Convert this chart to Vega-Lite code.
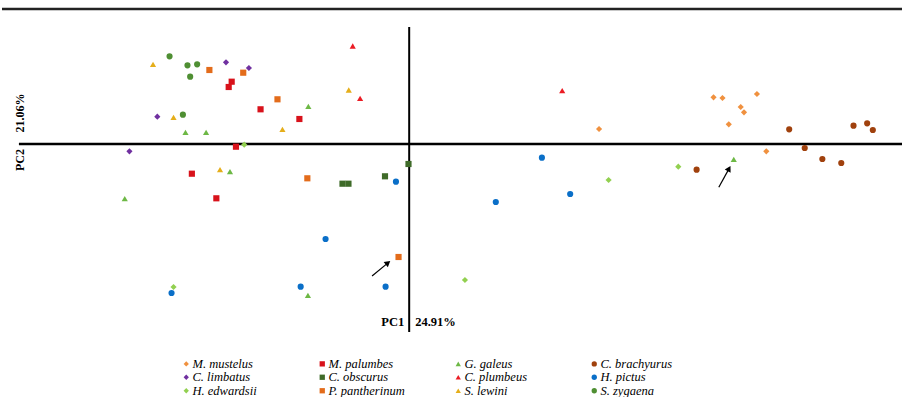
{
  "$schema": "https://vega.github.io/schema/vega-lite/v6.json",
  "width": 904,
  "height": 397,
  "autosize": {"type": "fit", "contains": "padding"},
  "padding": 0,
  "background": "white",
  "datasets": {
    "scores": [
      {"species": "M. mustelus", "pc1": 19.07, "pc2": 1.5},
      {"species": "M. mustelus", "pc1": 30.57, "pc2": 4.67},
      {"species": "M. mustelus", "pc1": 31.47, "pc2": 4.6},
      {"species": "M. mustelus", "pc1": 34.93, "pc2": 5.0},
      {"species": "M. mustelus", "pc1": 33.3, "pc2": 3.7},
      {"species": "M. mustelus", "pc1": 33.63, "pc2": 3.17},
      {"species": "M. mustelus", "pc1": 32.1, "pc2": 1.97},
      {"species": "M. mustelus", "pc1": 35.87, "pc2": -0.73},
      {"species": "C. brachyurus", "pc1": 38.17, "pc2": 1.47},
      {"species": "C. brachyurus", "pc1": 39.73, "pc2": -0.4},
      {"species": "C. brachyurus", "pc1": 41.5, "pc2": -1.5},
      {"species": "C. brachyurus", "pc1": 43.4, "pc2": -1.9},
      {"species": "C. brachyurus", "pc1": 44.63, "pc2": 1.83},
      {"species": "C. brachyurus", "pc1": 46.0, "pc2": 2.07},
      {"species": "C. brachyurus", "pc1": 46.57, "pc2": 1.4},
      {"species": "C. brachyurus", "pc1": 28.87, "pc2": -2.57},
      {"species": "H. pictus", "pc1": -1.33, "pc2": -3.77},
      {"species": "H. pictus", "pc1": -8.4, "pc2": -9.5},
      {"species": "H. pictus", "pc1": -23.87, "pc2": -14.9},
      {"species": "H. pictus", "pc1": -10.9, "pc2": -14.27},
      {"species": "H. pictus", "pc1": -2.37, "pc2": -14.27},
      {"species": "H. pictus", "pc1": 13.33, "pc2": -1.37},
      {"species": "H. pictus", "pc1": 16.17, "pc2": -5.0},
      {"species": "H. pictus", "pc1": 8.7, "pc2": -5.8},
      {"species": "H. edwardsii", "pc1": -16.57, "pc2": -0.07},
      {"species": "H. edwardsii", "pc1": -23.67, "pc2": -14.3},
      {"species": "H. edwardsii", "pc1": 5.6, "pc2": -13.6},
      {"species": "H. edwardsii", "pc1": 20.03, "pc2": -3.6},
      {"species": "H. edwardsii", "pc1": 27.03, "pc2": -2.27},
      {"species": "G. galeus", "pc1": -10.13, "pc2": 3.77},
      {"species": "G. galeus", "pc1": -22.47, "pc2": 1.17},
      {"species": "G. galeus", "pc1": -20.4, "pc2": 1.17},
      {"species": "G. galeus", "pc1": -18.0, "pc2": -2.77},
      {"species": "G. galeus", "pc1": -28.57, "pc2": -5.47},
      {"species": "G. galeus", "pc1": -10.17, "pc2": -15.13},
      {"species": "G. galeus", "pc1": 32.6, "pc2": -1.53},
      {"species": "C. limbatus", "pc1": -18.4, "pc2": 8.17},
      {"species": "C. limbatus", "pc1": -16.1, "pc2": 7.6},
      {"species": "C. limbatus", "pc1": -25.3, "pc2": 2.73},
      {"species": "C. limbatus", "pc1": -28.1, "pc2": -0.73},
      {"species": "M. palumbes", "pc1": -17.83, "pc2": 6.23},
      {"species": "M. palumbes", "pc1": -18.13, "pc2": 5.7},
      {"species": "M. palumbes", "pc1": -14.93, "pc2": 3.47},
      {"species": "M. palumbes", "pc1": -11.03, "pc2": 2.5},
      {"species": "M. palumbes", "pc1": -17.4, "pc2": -0.27},
      {"species": "M. palumbes", "pc1": -21.83, "pc2": -2.97},
      {"species": "M. palumbes", "pc1": -19.37, "pc2": -5.43},
      {"species": "C. obscurus", "pc1": -0.07, "pc2": -2.0},
      {"species": "C. obscurus", "pc1": -6.7, "pc2": -3.97},
      {"species": "C. obscurus", "pc1": -6.1, "pc2": -3.97},
      {"species": "C. obscurus", "pc1": -2.43, "pc2": -3.23},
      {"species": "P. pantherinum", "pc1": -20.07, "pc2": 7.4},
      {"species": "P. pantherinum", "pc1": -16.67, "pc2": 7.13},
      {"species": "P. pantherinum", "pc1": -13.23, "pc2": 4.47},
      {"species": "P. pantherinum", "pc1": -10.23, "pc2": -3.43},
      {"species": "P. pantherinum", "pc1": -1.07, "pc2": -11.3},
      {"species": "C. plumbeus", "pc1": -5.67, "pc2": 9.8},
      {"species": "C. plumbeus", "pc1": -4.93, "pc2": 4.57},
      {"species": "C. plumbeus", "pc1": 15.37, "pc2": 5.33},
      {"species": "S. lewini", "pc1": -25.73, "pc2": 7.97},
      {"species": "S. lewini", "pc1": -23.67, "pc2": 2.67},
      {"species": "S. lewini", "pc1": -6.07, "pc2": 5.4},
      {"species": "S. lewini", "pc1": -12.73, "pc2": 1.47},
      {"species": "S. lewini", "pc1": -19.0, "pc2": -2.57},
      {"species": "S. zygaena", "pc1": -24.07, "pc2": 8.77},
      {"species": "S. zygaena", "pc1": -22.27, "pc2": 7.87},
      {"species": "S. zygaena", "pc1": -21.3, "pc2": 7.97},
      {"species": "S. zygaena", "pc1": -22.0, "pc2": 6.73},
      {"species": "S. zygaena", "pc1": -22.73, "pc2": 2.93}
    ],
    "arrows": [
      {"x1": -3.73, "y1": -13.2, "x2": -2.13, "y2": -11.89, "dir": 51},
      {"x1": 31.1, "y1": -4.33, "x2": 32.13, "y2": -2.46, "dir": 29}
    ],
    "leftLabels": [
      {"t": "PC1", "x": -0.5, "y": -17.8}
    ],
    "rightLabels": [
      {"t": "24.91%", "x": 0.6, "y": -17.8}
    ],
    "sideLabels": [
      {"t": "21.06%", "x": -39.1, "y": 3.1},
      {"t": "PC2", "x": -39.1, "y": -1.6}
    ]
  },
  "layer": [
    {
      "data": {"values": [{}]},
      "mark": {"type": "rule", "color": "#222222", "strokeWidth": 2.5},
      "encoding": {
        "x": {"datum": -40.9, "type": "quantitative", "scale": {"domain": [-40.9, 49.5], "nice": false, "zero": false}, "axis": null},
        "x2": {"datum": 49.5},
        "y": {"datum": 13.5, "type": "quantitative", "scale": {"domain": [-25.3, 14.4], "nice": false, "zero": false}, "axis": null}
      }
    },
    {
      "data": {"values": [{}]},
      "mark": {"type": "rule", "color": "#000000", "strokeWidth": 2.5},
      "encoding": {
        "x": {"datum": -39.2, "type": "quantitative"},
        "x2": {"datum": 49.5},
        "y": {"datum": 0, "type": "quantitative"}
      }
    },
    {
      "data": {"values": [{}]},
      "mark": {"type": "rule", "color": "#000000", "strokeWidth": 2},
      "encoding": {
        "x": {"datum": 0, "type": "quantitative"},
        "y": {"datum": 11.7, "type": "quantitative"},
        "y2": {"datum": -18.8}
      }
    },
    {
      "data": {"name": "scores"},
      "mark": {"type": "point", "filled": true, "opacity": 1, "size": 38},
      "encoding": {
        "x": {"field": "pc1", "type": "quantitative"},
        "y": {"field": "pc2", "type": "quantitative"},
        "color": {
          "field": "species", "type": "nominal",
          "scale": {
            "domain": ["M. mustelus", "C. limbatus", "H. edwardsii", "M. palumbes", "C. obscurus", "P. pantherinum", "G. galeus", "C. plumbeus", "S. lewini", "C. brachyurus", "H. pictus", "S. zygaena"],
            "range": ["#F0913F", "#7030A0", "#92D050", "#D8121B", "#3F6B29", "#E36C1B", "#6DB845", "#EB1C24", "#E5AE1A", "#A0410D", "#0A6FC8", "#4F8F33"]
          },
          "legend": {"title": null}
        },
        "shape": {
          "field": "species", "type": "nominal",
          "scale": {
            "domain": ["M. mustelus", "C. limbatus", "H. edwardsii", "M. palumbes", "C. obscurus", "P. pantherinum", "G. galeus", "C. plumbeus", "S. lewini", "C. brachyurus", "H. pictus", "S. zygaena"],
            "range": ["diamond", "diamond", "diamond", "square", "square", "square", "triangle-up", "triangle-up", "triangle-up", "circle", "circle", "circle"]
          },
          "legend": {"title": null}
        }
      }
    },
    {
      "data": {"name": "arrows"},
      "mark": {"type": "rule", "color": "#000000", "strokeWidth": 1.2},
      "encoding": {
        "x": {"field": "x1", "type": "quantitative"},
        "y": {"field": "y1", "type": "quantitative"},
        "x2": {"field": "x2"},
        "y2": {"field": "y2"}
      }
    },
    {
      "data": {"name": "arrows"},
      "mark": {"type": "point", "shape": "triangle-up", "filled": true, "color": "#000000", "opacity": 1, "size": 45},
      "encoding": {
        "x": {"field": "x2", "type": "quantitative"},
        "y": {"field": "y2", "type": "quantitative"},
        "angle": {"field": "dir", "type": "quantitative", "scale": {"domain": [0, 360], "range": [0, 360]}}
      }
    },
    {
      "data": {"name": "leftLabels"},
      "mark": {"type": "text", "font": "Liberation Serif", "fontWeight": "bold", "fontSize": 12.5, "baseline": "middle", "align": "right", "color": "#000000"},
      "encoding": {
        "x": {"field": "x", "type": "quantitative"},
        "y": {"field": "y", "type": "quantitative"},
        "text": {"field": "t"}
      }
    },
    {
      "data": {"name": "rightLabels"},
      "mark": {"type": "text", "font": "Liberation Serif", "fontWeight": "bold", "fontSize": 12.5, "baseline": "middle", "align": "left", "color": "#000000"},
      "encoding": {
        "x": {"field": "x", "type": "quantitative"},
        "y": {"field": "y", "type": "quantitative"},
        "text": {"field": "t"}
      }
    },
    {
      "data": {"name": "sideLabels"},
      "mark": {"type": "text", "font": "Liberation Serif", "fontWeight": "bold", "fontSize": 12, "baseline": "middle", "align": "center", "angle": 270, "color": "#000000"},
      "encoding": {
        "x": {"field": "x", "type": "quantitative"},
        "y": {"field": "y", "type": "quantitative"},
        "text": {"field": "t"}
      }
    }
  ],
  "config": {
    "view": {"stroke": null},
    "legend": {
      "orient": "none",
      "legendX": 178,
      "legendY": 357.5,
      "columns": 4,
      "gridAlign": "all",
      "columnPadding": 47,
      "rowPadding": 0.5,
      "padding": 0,
      "labelFont": "Liberation Serif",
      "labelFontStyle": "italic",
      "labelFontSize": 12.5,
      "labelColor": "#000000",
      "labelOffset": 0,
      "symbolSize": 28,
      "symbolStrokeWidth": 0
    }
  }
}
